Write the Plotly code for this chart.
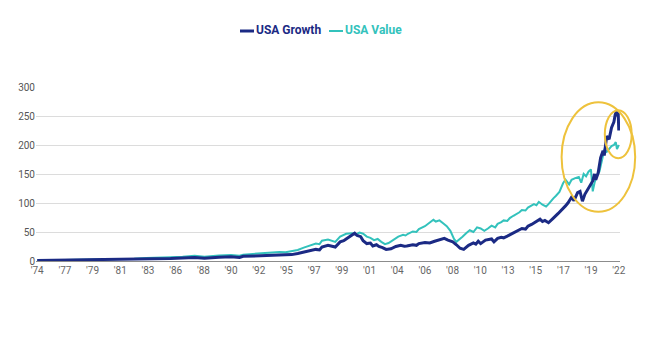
import numpy as np
import plotly.graph_objects as go

# Cumulative index levels, decimal-year positions
growth_x = [1974.0, 1975.0, 1976.0, 1977.0, 1978.0, 1979.0, 1980.0, 1981.0, 1982.0, 1983.0,
            1984.0, 1985.0, 1986.0, 1987.0, 1987.8, 1988.0, 1989.0, 1990.0, 1990.7, 1991.0,
            1992.0, 1993.0, 1994.0, 1995.0, 1995.5, 1996.0, 1996.5, 1997.0, 1997.3, 1997.5,
            1998.0, 1998.6, 1999.0, 1999.3, 1999.5, 1999.8, 2000.0, 2000.2, 2000.4, 2000.7,
            2000.9, 2001.2, 2001.5, 2001.7, 2002.0, 2002.2, 2002.5, 2002.8, 2003.2, 2003.6,
            2004.0, 2004.3, 2004.5, 2005.0, 2005.3, 2005.5, 2006.0, 2006.4, 2006.8, 2007.0,
            2007.2, 2007.6, 2007.9, 2008.3, 2008.6, 2008.9, 2009.2, 2009.4, 2009.6, 2010.0,
            2010.2, 2010.4, 2010.6, 2011.0, 2011.3, 2011.5, 2011.7, 2012.0, 2012.3, 2012.5,
            2012.8, 2013.0, 2013.3, 2013.5, 2013.8, 2014.0, 2014.3, 2014.5, 2014.8, 2015.0,
            2015.3, 2015.5, 2015.7, 2015.9, 2016.2, 2016.4, 2016.6, 2017.0, 2017.2, 2017.4,
            2017.6, 2017.8, 2018.1, 2018.3, 2018.6, 2018.8, 2019.0, 2019.2, 2019.5, 2019.7,
            2019.85, 2020.0, 2020.1, 2020.3, 2020.5, 2020.7, 2020.8, 2021.0, 2021.2, 2021.4,
            2021.6, 2021.7, 2021.8, 2021.85, 2021.95, 2022.0]
growth_y = [1.0, 1.2, 1.4, 1.5, 1.7, 2.0, 2.6, 2.5, 2.8, 3.6,
            3.4, 4.2, 5.0, 6.0, 4.8, 5.2, 6.5, 7.2, 6.2, 8.0,
            8.8, 9.0, 9.3, 11.0, 13.0, 15.0, 17.0, 20.0, 19.0, 24.0,
            27.0, 24.0, 33.0, 35.0, 38.0, 42.0, 46.0, 48.0, 44.0, 42.0,
            35.0, 30.0, 31.0, 26.0, 28.0, 25.0, 23.0, 20.0, 21.0, 25.0,
            27.0, 25.5, 26.0, 28.0, 27.0, 30.0, 32.0, 31.0, 34.0, 35.0,
            37.0, 39.0, 36.0, 33.0, 28.0, 22.0, 20.0, 23.0, 27.0, 31.0,
            29.0, 34.0, 30.0, 36.0, 37.0, 38.0, 33.0, 39.0, 41.0, 40.0,
            43.0, 45.0, 48.0, 50.0, 53.0, 56.0, 55.0, 60.0, 63.0, 66.0,
            69.0, 72.0, 68.0, 70.0, 66.0, 71.0, 74.0, 82.0, 86.0, 90.0,
            95.0, 100.0, 110.0, 104.0, 118.0, 120.0, 103.0, 115.0, 125.0, 132.0,
            138.0, 150.0, 140.0, 152.0, 178.0, 190.0, 182.0, 215.0, 210.0, 230.0,
            240.0, 252.0, 258.0, 250.0, 256.0, 225.0]

value_x = [1974.0, 1975.0, 1976.0, 1977.0, 1978.0, 1979.0, 1980.0, 1981.0, 1982.0, 1983.0,
           1984.0, 1985.0, 1986.0, 1987.0, 1987.8, 1988.0, 1989.0, 1990.0, 1990.7, 1991.0,
           1992.0, 1993.0, 1994.0, 1994.5, 1995.0, 1995.5, 1996.0, 1996.5, 1997.0, 1997.3,
           1997.5, 1998.0, 1998.6, 1999.0, 1999.5, 2000.0, 2000.3, 2000.6, 2000.9, 2001.2,
           2001.5, 2001.8, 2002.1, 2002.4, 2002.7, 2003.0, 2003.4, 2003.8, 2004.2, 2004.4,
           2004.6, 2005.0, 2005.3, 2005.5, 2006.0, 2006.2, 2006.4, 2006.7, 2006.9, 2007.2,
           2007.5, 2007.8, 2008.1, 2008.4, 2008.6, 2008.8, 2009.1, 2009.4, 2009.7, 2010.0,
           2010.3, 2010.6, 2010.9, 2011.2, 2011.5, 2011.8, 2012.0, 2012.3, 2012.5, 2012.8,
           2013.0, 2013.3, 2013.5, 2013.8, 2014.0, 2014.3, 2014.5, 2014.8, 2015.0, 2015.2,
           2015.4, 2015.7, 2016.0, 2016.2, 2016.4, 2016.6, 2016.8, 2017.1, 2017.4, 2017.6,
           2017.9, 2018.1, 2018.4, 2018.7, 2018.9, 2019.1, 2019.3, 2019.5, 2019.7, 2019.85,
           2020.0, 2020.2, 2020.4, 2020.6, 2020.8, 2021.0, 2021.2, 2021.4, 2021.6, 2021.75,
           2021.85, 2022.0]
value_y = [1.0, 1.3, 1.6, 1.9, 2.2, 2.6, 3.2, 3.5, 4.0, 5.0,
           5.4, 6.5, 7.5, 9.0, 7.5, 8.0, 9.5, 10.5, 9.0, 11.0,
           12.5, 14.5, 15.5, 15.0, 17.0, 19.0, 23.0, 26.0, 30.0, 29.0,
           35.0, 37.0, 33.0, 42.0, 47.0, 48.0, 46.0, 49.0, 47.0, 42.0,
           40.0, 36.0, 38.0, 33.0, 29.0, 31.0, 37.0, 42.0, 45.0, 44.0,
           47.0, 51.0, 50.0, 55.0, 60.0, 63.0, 66.0, 71.0, 68.0, 70.0,
           65.0, 60.0, 52.0, 38.0, 33.0, 36.0, 42.0, 48.0, 53.0, 50.0,
           58.0, 56.0, 52.0, 56.0, 61.0, 58.0, 64.0, 67.0, 70.0, 69.0,
           74.0, 78.0, 80.0, 84.0, 88.0, 87.0, 92.0, 95.0, 98.0, 96.0,
           102.0, 97.0, 94.0, 98.0, 104.0, 108.0, 112.0, 119.0, 134.0, 140.0,
           132.0, 140.0, 143.0, 145.0, 135.0, 150.0, 146.0, 154.0, 158.0, 120.0,
           135.0, 148.0, 154.0, 175.0, 191.0, 188.0, 194.0, 198.0, 200.0, 205.0,
           193.0, 200.0]

tick_labels = ["'74", "'77", "'79", "'81", "'83", "'86", "'88", "'90", "'92", "'95", "'97",
               "'99", "'01", "'04", "'06", "'08", "'10", "'13", "'15", "'17", "'19", "'22"]
y_ticks = [0, 50, 100, 150, 200, 250, 300]

GROWTH = "#1b2a84"
VALUE = "#33c2bc"
GOLD = "#eec23c"

fig = go.Figure()
fig.add_trace(go.Scatter(x=value_x, y=value_y, mode="lines", name="USA Value",
                         line=dict(color=VALUE, width=2)))
fig.add_trace(go.Scatter(x=growth_x, y=growth_y, mode="lines", name="USA Growth",
                         line=dict(color=GROWTH, width=3)))

tick_pos = np.linspace(1974, 2022, len(tick_labels))

fig.update_layout(
    width=651, height=343,
    margin=dict(l=36, r=31, t=87, b=82),
    paper_bgcolor="white", plot_bgcolor="white",
    showlegend=False,
    font=dict(family="Roboto, sans-serif", size=10, color="#666666"),
    xaxis=dict(range=[1973.9, 2022.1], tickmode="array", tickvals=tick_pos,
               ticktext=tick_labels, showgrid=False, zeroline=False,
               showline=True, linecolor="#8c8c8c", linewidth=1,
               ticks="", tickfont=dict(size=10, color="#666666")),
    yaxis=dict(range=[0, 300], tickmode="array", tickvals=y_ticks,
               showgrid=True, gridcolor="#dcdcdc", gridwidth=1, zeroline=False,
               showline=False, ticks="", tickfont=dict(size=10, color="#555555")),
)

# Highlight ellipses around the recent run-up
fig.add_shape(type="circle", xref="paper", yref="paper",
              x0=0.900, x1=1.026, y0=0.283, y1=0.912,
              line=dict(color=GOLD, width=2))
fig.add_shape(type="circle", xref="paper", yref="paper",
              x0=0.974, x1=1.020, y0=0.590, y1=0.866,
              line=dict(color=GOLD, width=2))

# Custom legend at the top
legend_items = [("USA Growth", GROWTH, 240, 3), ("USA Value", VALUE, 329, 2)]
for label, color, px, w in legend_items:
    fig.add_shape(type="line", xref="paper", yref="paper",
                  x0=(px - 36) / 584, x1=(px + 14 - 36) / 584,
                  y0=(261 - 31) / 174, y1=(261 - 31) / 174,
                  line=dict(color=color, width=w))
    fig.add_annotation(xref="paper", yref="paper", x=(px + 14 - 36) / 584,
                       y=(261 - 30) / 174, xanchor="left", yanchor="middle",
                       text=f"<b>{label}</b>", showarrow=False,
                       font=dict(family="Roboto, sans-serif", size=12, color=color))

fig.write_html("out.html")
